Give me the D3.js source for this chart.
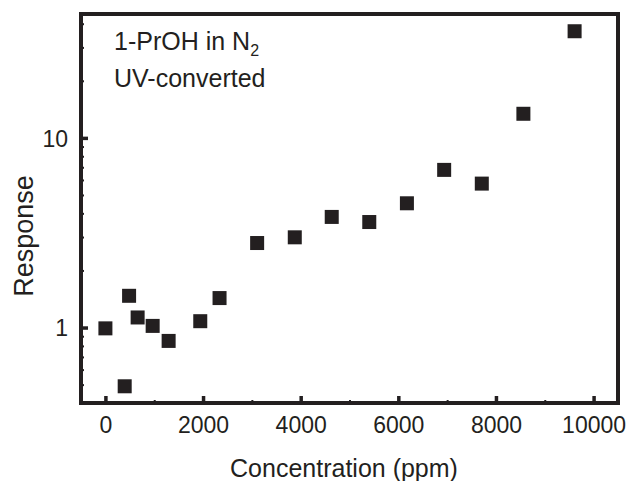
<!DOCTYPE html>
<html>
<head>
<meta charset="utf-8">
<script src="https://cdn.jsdelivr.net/npm/d3@7"></script>
<style>
  body { margin: 0; background: #fff; }
  svg text { font-family: "Liberation Sans", Arial, sans-serif; fill: #231f20; }
</style>
</head>
<body>
<div id="chart"></div>
<script>
// concentration (ppm) and response
const concentration = [0, 395, 485, 660, 968, 1295, 1943, 2338, 3108, 3879, 4636, 5405, 6176, 6939, 7710, 8562, 9611];
const response = [0.99, 0.49, 1.47, 1.13, 1.02, 0.85, 1.08, 1.43, 2.79, 2.99, 3.83, 3.60, 4.52, 6.78, 5.74, 13.4, 36.5];

const xMajor = [0, 2000, 4000, 6000, 8000, 10000];
const xMinor = [1000, 3000, 5000, 7000, 9000];
const yMajor = [1, 10];
const yMinor = [0.5, 0.6, 0.7, 0.8, 0.9, 2, 3, 4, 5, 6, 7, 8, 9, 20, 30, 40];

const W = 629, H = 481;
const margin = {top: 14, right: 11, bottom: 78, left: 81},
      width = W - margin.left - margin.right,
      height = H - margin.top - margin.bottom;
const ink = "#231f20";

const svg = d3.select("#chart").append("svg")
    .attr("width", W).attr("height", H);
const g = svg.append("g").attr("transform", `translate(${margin.left},${margin.top})`);

const x = d3.scaleLinear().domain([-500, 10500]).range([0, width]);
const y = d3.scaleLog().domain([0.4, 45]).range([height, 0]);

// minor ticks (inward, no labels)
g.append("g").attr("transform", `translate(0,${height})`)
    .call(d3.axisBottom(x).tickValues(xMinor).tickSize(-3).tickFormat(""))
    .call(a => a.select(".domain").remove())
    .call(a => a.selectAll("line").attr("stroke", ink).attr("stroke-width", 2));
g.append("g")
    .call(d3.axisLeft(y).tickValues(yMinor).tickSize(-3).tickFormat(""))
    .call(a => a.select(".domain").remove())
    .call(a => a.selectAll("line").attr("stroke", ink).attr("stroke-width", 2));

// major ticks
g.append("g").attr("transform", `translate(0,${height})`)
    .call(d3.axisBottom(x).tickValues(xMajor).tickSize(-7).tickFormat(d3.format("d")))
    .call(a => a.select(".domain").remove())
    .call(a => a.selectAll("line").attr("stroke", ink).attr("stroke-width", 3.5))
    .call(a => a.selectAll("text").attr("y", 30).attr("dy", 0)
        .style("font-size", "23px").attr("fill", ink));
g.append("g")
    .call(d3.axisLeft(y).tickValues(yMajor).tickSize(-7).tickFormat(d3.format("d")))
    .call(a => a.select(".domain").remove())
    .call(a => a.selectAll("line").attr("stroke", ink).attr("stroke-width", 3.5))
    .call(a => a.selectAll("text").attr("x", -13).attr("dy", "0.36em")
        .style("font-size", "23px").attr("fill", ink));

// frame
g.append("rect")
    .attr("width", width).attr("height", height)
    .attr("fill", "none").attr("stroke", ink).attr("stroke-width", 4);

// points
const side = 14;
g.selectAll(".pt")
    .data(concentration.map((c, i) => ({c, r: response[i]})))
    .join("rect")
    .attr("class", "pt")
    .attr("x", d => x(d.c) - side / 2)
    .attr("y", d => y(d.r) - side / 2)
    .attr("width", side).attr("height", side)
    .attr("fill", ink);

// annotation
const note = g.append("text").attr("x", 33).attr("y", 36).style("font-size", "25px");
note.append("tspan").text("1-PrOH in N");
note.append("tspan").attr("dy", 6).style("font-size", "16px").text("2");
g.append("text").attr("x", 33).attr("y", 73).style("font-size", "25px").text("UV-converted");

// axis titles
svg.append("text")
    .attr("x", 344).attr("y", 477)
    .attr("text-anchor", "middle")
    .style("font-size", "25px")
    .text("Concentration (ppm)");
svg.append("text")
    .attr("transform", "translate(33,236) rotate(-90)")
    .attr("text-anchor", "middle")
    .style("font-size", "27px")
    .text("Response");
</script>
</body>
</html>
